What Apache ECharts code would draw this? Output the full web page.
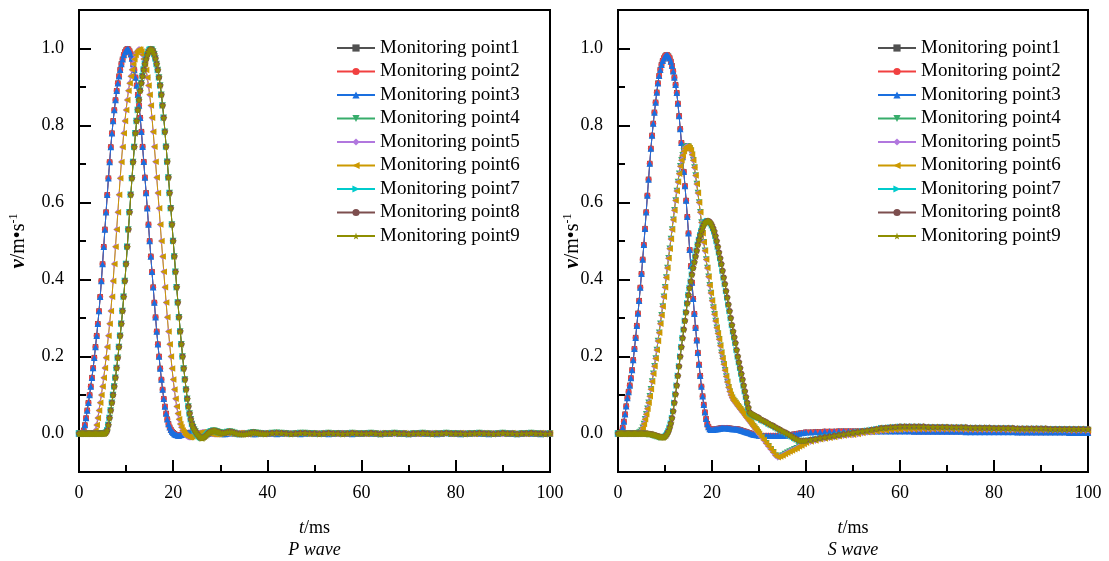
<!DOCTYPE html>
<html><head><meta charset="utf-8">
<script src="https://cdn.jsdelivr.net/npm/echarts@6/dist/echarts.min.js"></script>
<style>html,body{margin:0;padding:0;background:#fff}#c{width:1109px;height:561px}</style>
</head><body><div id="c"></div>
<script>
// ---------- DATA ----------
// sampling times (ms): 0..30 every 0.25 ms, 30.5..40 every 0.5 ms, 41..100 every 1 ms
const timeMs = [];
for (let i = 0; i <= 120; i++) timeMs.push(i * 0.25);
for (let i = 61; i <= 80; i++) timeMs.push(i * 0.5);
for (let t = 41; t <= 100; t++) timeMs.push(t);

const seriesNames = ['Monitoring point1','Monitoring point2','Monitoring point3','Monitoring point4','Monitoring point5','Monitoring point6','Monitoring point7','Monitoring point8','Monitoring point9'];
const yTickValues = [0, 0.2, 0.4, 0.6, 0.8, 1.0];

// P wave, points 1-3
const pA = [
0, 0, 0, 0.002, 0.008, 0.022, 0.04, 0.06,
0.08, 0.1, 0.122, 0.145, 0.17, 0.197, 0.225, 0.254,
0.285, 0.318, 0.355, 0.396, 0.44, 0.485, 0.53, 0.575,
0.62, 0.663, 0.705, 0.744, 0.78, 0.812, 0.84, 0.866,
0.89, 0.91, 0.928, 0.945, 0.96, 0.972, 0.983, 0.991,
0.996, 0.999, 0.998, 0.993, 0.985, 0.974, 0.96, 0.944,
0.925, 0.904, 0.88, 0.852, 0.82, 0.784, 0.745, 0.706,
0.665, 0.625, 0.585, 0.543, 0.5, 0.46, 0.42, 0.38,
0.34, 0.302, 0.265, 0.232, 0.2, 0.169, 0.14, 0.114,
0.09, 0.07, 0.052, 0.037, 0.025, 0.016, 0.01, 0.005,
0.002, -0.001, -0.003, -0.004, -0.005, -0.005, -0.004, -0.003,
-0.002, -0.001, 0, 0, 0.001, 0.002, 0.002, 0.002,
0.002, 0.002, 0.001, 0, 0, -0.001, -0.001, -0.002,
-0.002, -0.002, -0.002, -0.001, -0.001, 0, 0, 0.001,
0.001, 0.002, 0.002, 0.002, 0.002, 0.002, 0.001, 0,
0,
-0.001, -0.001, 0, 0.001, 0.001, 0, 0, -0.001, 0, 0.001,
0.001, 0, 0, -0.001, -0.001, 0, 0.001, 0.001, 0, 0,
0, -0.001, 0, 0.001, 0, 0, -0.001, 0, 0.001, 0,
0, 0, -0.001, 0, 0.001, 0.001, 0, -0.001, 0, 0,
0.001, 0, 0, -0.001, 0, 0, 0.001, 0, 0, -0.001,
0, 0.001, 0, 0, 0, -0.001, 0, 0.001, 0, 0,
-0.001, 0, 0, 0.001, 0, 0, -0.001, 0, 0, 0.001,
0, 0, -0.001, 0, 0.001, 0, 0, -0.001, 0, 0
];
// P wave, points 5-6
const pB = [
0, 0, 0, 0, 0, 0, 0, 0,
0, 0, 0, 0, 0, 0.002, 0.008, 0.022,
0.04, 0.06, 0.08, 0.1, 0.122, 0.145, 0.17, 0.197,
0.225, 0.254, 0.285, 0.318, 0.355, 0.396, 0.44, 0.485,
0.53, 0.575, 0.62, 0.663, 0.705, 0.744, 0.78, 0.812,
0.84, 0.866, 0.89, 0.91, 0.928, 0.945, 0.96, 0.972,
0.983, 0.991, 0.995, 0.998, 0.997, 0.992, 0.984, 0.973,
0.96, 0.944, 0.925, 0.904, 0.88, 0.852, 0.82, 0.784,
0.745, 0.706, 0.665, 0.625, 0.585, 0.543, 0.5, 0.46,
0.42, 0.38, 0.34, 0.302, 0.265, 0.232, 0.2, 0.169,
0.14, 0.114, 0.09, 0.07, 0.052, 0.037, 0.025, 0.016,
0.008, 0.003, -0.002, -0.005, -0.008, -0.009, -0.01, -0.01,
-0.008, -0.006, -0.004, -0.002, -0.001, 0, 0.001, 0.002,
0.002, 0.003, 0.003, 0.003, 0.002, 0.002, 0.001, 0,
0, -0.001, -0.001, -0.002, -0.002, -0.002, -0.001, -0.001,
0,
0.001, 0.002, 0.001, 0, -0.001, -0.001, 0, 0.001, 0.001, 0,
0, -0.001, 0, 0.001, 0, 0, -0.001, 0, 0.001, 0,
0, 0.001, 0, -0.001, 0, 0, 0.001, 0, -0.001, 0,
0, 0.001, 0, 0, -0.001, 0, 0, 0.001, 0, 0,
-0.001, 0, 0, 0.001, 0, 0, -0.001, 0, 0.001, 0,
0, -0.001, 0, 0, 0.001, 0, 0, 0, -0.001, 0,
0.001, 0, 0, -0.001, 0, 0.001, 0, 0, 0, -0.001,
0, 0.001, 0, 0, -0.001, 0, 0, 0.001, 0, 0
];
// P wave, points 4,7,8,9
const pC = [
0, 0, 0, 0, 0, 0, 0, 0,
0, 0, 0, 0, 0, 0, 0, 0,
0, 0, 0, 0, 0, 0, 0, 0.002,
0.008, 0.022, 0.04, 0.06, 0.08, 0.1, 0.122, 0.145,
0.17, 0.197, 0.225, 0.254, 0.285, 0.318, 0.355, 0.396,
0.44, 0.485, 0.53, 0.575, 0.62, 0.663, 0.705, 0.744,
0.78, 0.812, 0.84, 0.866, 0.89, 0.91, 0.928, 0.945,
0.96, 0.972, 0.983, 0.991, 0.996, 0.998, 0.997, 0.992,
0.985, 0.974, 0.96, 0.944, 0.925, 0.904, 0.88, 0.852,
0.82, 0.784, 0.745, 0.706, 0.665, 0.625, 0.585, 0.543,
0.5, 0.46, 0.42, 0.38, 0.34, 0.302, 0.265, 0.232,
0.2, 0.169, 0.14, 0.114, 0.09, 0.07, 0.052, 0.037,
0.025, 0.016, 0.01, 0.005, 0, -0.004, -0.008, -0.01,
-0.012, -0.012, -0.01, -0.008, -0.005, -0.002, 0.001, 0.003,
0.005, 0.006, 0.007, 0.007, 0.006, 0.005, 0.004, 0.003,
0.002,
0.001, 0.002, 0.004, 0.005, 0.004, 0.002, 0, -0.001, -0.002, -0.002,
-0.001, 0, 0.002, 0.003, 0.002, 0.001, 0, 0, -0.001, 0,
0.001, 0.002, 0.001, 0, -0.001, 0, 0.001, 0.001, 0, 0,
-0.001, 0, 0.001, 0, 0, -0.001, 0, 0.001, 0, 0,
0, 0.001, 0, -0.001, 0, 0, 0.001, 0, 0, -0.001,
0, 0, 0.001, 0, -0.001, 0, 0, 0.001, 0, 0,
0, -0.001, 0, 0, 0.001, 0, 0, -0.001, 0, 0.001,
0, 0, -0.001, 0, 0, 0.001, 0, 0, -0.001, 0
];
// S wave, points 1-3
const sA = [
0, 0, 0, 0.005, 0.015, 0.031, 0.05, 0.071,
0.092, 0.108, 0.125, 0.144, 0.165, 0.191, 0.22, 0.249,
0.28, 0.312, 0.345, 0.379, 0.415, 0.452, 0.49, 0.532,
0.575, 0.618, 0.66, 0.701, 0.74, 0.774, 0.805, 0.834,
0.86, 0.886, 0.91, 0.929, 0.945, 0.958, 0.968, 0.975,
0.98, 0.983, 0.983, 0.98, 0.975, 0.966, 0.955, 0.941,
0.925, 0.906, 0.885, 0.857, 0.825, 0.791, 0.755, 0.718,
0.68, 0.643, 0.605, 0.563, 0.52, 0.477, 0.435, 0.392,
0.35, 0.311, 0.275, 0.242, 0.21, 0.179, 0.15, 0.122,
0.097, 0.075, 0.055, 0.038, 0.025, 0.017, 0.012, 0.01,
0.01, 0.01, 0.011, 0.011, 0.012, 0.012, 0.013, 0.013,
0.014, 0.014, 0.014, 0.014, 0.014, 0.014, 0.013, 0.013,
0.013, 0.012, 0.012, 0.012, 0.012, 0.011, 0.011, 0.01,
0.009, 0.008, 0.007, 0.006, 0.005, 0.004, 0.003, 0.002,
0.001, 0, -0.001, -0.002, -0.003, -0.003, -0.004, -0.004,
-0.005,
-0.006, -0.006, -0.006, -0.006, -0.006, -0.006, -0.006, -0.006, -0.005, -0.005,
-0.005, -0.004, -0.004, -0.003, -0.002, -0.001, 0, 0.001, 0.002, 0.003,
0.003, 0.004, 0.004, 0.005, 0.005, 0.005, 0.006, 0.006, 0.006, 0.006,
0.006, 0.006, 0.006, 0.006, 0.006, 0.006, 0.006, 0.006, 0.006, 0.006,
0.006, 0.006, 0.005, 0.005, 0.005, 0.005, 0.005, 0.005, 0.005, 0.005,
0.005, 0.005, 0.005, 0.004, 0.004, 0.004, 0.004, 0.004, 0.004, 0.004,
0.004, 0.004, 0.004, 0.004, 0.003, 0.003, 0.003, 0.003, 0.003, 0.003,
0.003, 0.003, 0.003, 0.003, 0.003, 0.002, 0.002, 0.002, 0.002, 0.002
];
// S wave, points 4-6
const sB = [
0, 0, 0, 0, 0, 0, 0, 0,
0, 0, 0, 0, 0, 0, 0, 0,
0, 0, 0.002, 0.004, 0.008, 0.015, 0.025, 0.037,
0.05, 0.064, 0.08, 0.097, 0.115, 0.135, 0.155, 0.175,
0.195, 0.217, 0.24, 0.262, 0.285, 0.307, 0.33, 0.355,
0.38, 0.405, 0.43, 0.455, 0.48, 0.505, 0.53, 0.555,
0.58, 0.605, 0.63, 0.653, 0.675, 0.694, 0.71, 0.723,
0.733, 0.74, 0.744, 0.746, 0.745, 0.741, 0.735, 0.724,
0.71, 0.691, 0.67, 0.648, 0.625, 0.6, 0.575, 0.548,
0.52, 0.497, 0.475, 0.452, 0.43, 0.407, 0.385, 0.365,
0.345, 0.327, 0.31, 0.292, 0.275, 0.26, 0.245, 0.228,
0.21, 0.195, 0.18, 0.164, 0.148, 0.134, 0.12, 0.109,
0.1, 0.093, 0.087, 0.083, 0.079, 0.075, 0.071, 0.067,
0.063, 0.059, 0.055, 0.051, 0.047, 0.043, 0.039, 0.035,
0.031, 0.027, 0.023, 0.019, 0.015, 0.011, 0.007, 0.003,
-0.001,
-0.009, -0.017, -0.025, -0.033, -0.041, -0.049, -0.057, -0.062, -0.06, -0.057,
-0.053, -0.05, -0.047, -0.044, -0.041, -0.038, -0.034, -0.031, -0.027, -0.024,
-0.021, -0.018, -0.015, -0.013, -0.011, -0.009, -0.007, -0.005, -0.004, -0.003,
-0.001, 0.001, 0.003, 0.004, 0.006, 0.007, 0.008, 0.009, 0.01, 0.01,
0.011, 0.011, 0.011, 0.012, 0.012, 0.012, 0.012, 0.012, 0.012, 0.012,
0.012, 0.012, 0.012, 0.011, 0.011, 0.011, 0.011, 0.011, 0.011, 0.011,
0.011, 0.011, 0.01, 0.01, 0.01, 0.01, 0.01, 0.01, 0.01, 0.01,
0.01, 0.01, 0.01, 0.01, 0.01, 0.009, 0.009, 0.009, 0.009, 0.009
];
// S wave, points 7-9
const sC = [
0, 0, 0, 0, 0, 0, 0, 0,
0, 0, 0, 0, 0, 0, 0, 0,
0, 0, 0, 0, 0, 0, 0, 0,
0, 0, -0.001, -0.001, -0.002, -0.002, -0.003, -0.004,
-0.005, -0.006, -0.007, -0.008, -0.009, -0.01, -0.01, -0.01,
-0.008, -0.005, 0, 0.006, 0.015, 0.026, 0.04, 0.058,
0.08, 0.102, 0.125, 0.15, 0.175, 0.2, 0.225, 0.248,
0.27, 0.293, 0.315, 0.338, 0.36, 0.378, 0.395, 0.413,
0.43, 0.445, 0.46, 0.475, 0.49, 0.503, 0.515, 0.526,
0.535, 0.542, 0.547, 0.55, 0.552, 0.552, 0.55, 0.546,
0.54, 0.533, 0.525, 0.513, 0.5, 0.485, 0.47, 0.455,
0.44, 0.423, 0.405, 0.388, 0.37, 0.353, 0.335, 0.318,
0.3, 0.282, 0.265, 0.25, 0.235, 0.217, 0.2, 0.185,
0.17, 0.155, 0.14, 0.125, 0.11, 0.095, 0.08, 0.067,
0.055, 0.052, 0.05, 0.048, 0.047, 0.045, 0.043, 0.042,
0.04,
0.036, 0.033, 0.03, 0.026, 0.023, 0.02, 0.016, 0.013, 0.01, 0.006,
0.003, 0, -0.004, -0.008, -0.012, -0.015, -0.018, -0.019, -0.019, -0.018,
-0.016, -0.014, -0.012, -0.01, -0.008, -0.006, -0.004, -0.002, 0, 0.002,
0.004, 0.006, 0.008, 0.01, 0.012, 0.014, 0.015, 0.016, 0.017, 0.018,
0.018, 0.018, 0.018, 0.018, 0.018, 0.017, 0.017, 0.017, 0.017, 0.017,
0.016, 0.016, 0.016, 0.016, 0.015, 0.015, 0.015, 0.015, 0.015, 0.014,
0.014, 0.014, 0.014, 0.014, 0.013, 0.013, 0.013, 0.013, 0.013, 0.013,
0.013, 0.012, 0.012, 0.012, 0.012, 0.012, 0.012, 0.012, 0.012, 0.012
];

const pWaveSeries = [pA, pA, pA, pC, pB, pB, pC, pC, pC];
const sWaveSeries = [sA, sA, sA, sB, sB, sB, sC, sC, sC];

// ---------- STYLE ----------
const FONT = '"Liberation Serif", "Times New Roman", serif';
const colors = ['#515151','#F14040','#1A6FDF','#37AD6B','#B177DE','#CC9900','#00CBCC','#7D4E4E','#8E8E00'];
const STAR = 'path://M50,0 L61,35 L98,35 L68,57 L79,91 L50,70 L21,91 L32,57 L2,35 L39,35 Z';
const symbols = ['rect','circle','triangle','triangle','diamond','triangle','triangle','circle',STAR];
const rotates = [0,0,0,180,0,90,-90,0,0];
const sizes = [5.5,6,6.5,6.5,6.5,6.5,6.5,6,7.5];

const panels = [
  {data: pWaveSeries, label: 'P wave', left: 79, width: 471, legendLeft: 336, yNameGap: 50},
  {data: sWaveSeries, label: 'S wave', left: 618, width: 470, legendLeft: 877, yNameGap: 35}
];

const grid = [], xAxis = [], yAxis = [], legend = [], series = [];
const black = '#000';
panels.forEach((p, pi) => {
  grid.push({left: p.left, top: 10, width: p.width, height: 462, show: true,
    borderColor: black, borderWidth: 2, backgroundColor: 'transparent', containLabel: false, outerBoundsMode: 'none'});
  xAxis.push({
    type: 'value', gridIndex: pi, min: 0, max: 100, interval: 20,
    axisLine: {show: true, onZero: false, lineStyle: {color: black, width: 2}},
    axisTick: {show: true, inside: true, length: 12, lineStyle: {color: black, width: 2}},
    minorTick: {show: true, splitNumber: 2, length: 7, lineStyle: {color: black, width: 2}},
    splitLine: {show: false},
    axisLabel: {color: black, fontSize: 18, fontFamily: FONT, margin: 12},
    name: '{i|t}{n|/ms}\n{i|' + p.label + '}',
    nameLocation: 'middle', nameGap: 45, nameMoveOverlap: false,
    nameTextStyle: {color: black, fontFamily: FONT, fontSize: 18, lineHeight: 22,
      rich: {i: {fontStyle: 'italic', fontFamily: FONT, fontSize: 18, lineHeight: 22, color: black},
             n: {fontFamily: FONT, fontSize: 18, lineHeight: 22, color: black}}}
  });
  // main y axis: labels & major ticks
  yAxis.push({
    type: 'value', gridIndex: pi, min: -0.1, max: 1.1,
    axisLine: {show: true, onZero: false, lineStyle: {color: black, width: 2}},
    axisTick: {show: true, inside: true, length: 12, lineStyle: {color: black, width: 2}, customValues: yTickValues},
    splitLine: {show: false},
    axisLabel: {color: black, fontSize: 18, fontFamily: FONT, margin: 15, customValues: yTickValues,
      formatter: v => v.toFixed(1)},
    name: '{i|v}{n|/m•s}{sup|-1}', nameLocation: 'middle', nameGap: p.yNameGap, nameRotate: 90,
    nameMoveOverlap: false,
    nameTextStyle: {color: black, fontFamily: FONT, fontSize: 20,
      rich: {i: {fontStyle: 'italic', fontWeight: 'bold', fontFamily: FONT, fontSize: 21, color: black},
             n: {fontFamily: FONT, fontSize: 20, color: black},
             sup: {fontFamily: FONT, fontSize: 12, color: black, verticalAlign: 'top'}}}
  });
  // secondary y axis: minor ticks only
  yAxis.push({
    type: 'value', gridIndex: pi, min: -0.1, max: 1.1, interval: 0.2, position: 'left',
    axisLine: {show: false, onZero: false}, axisLabel: {show: false}, splitLine: {show: false},
    axisTick: {show: true, inside: true, length: 7, lineStyle: {color: black, width: 2}}
  });
  legend.push({
    orient: 'vertical', left: p.legendLeft, top: 38, padding: 0, itemWidth: 38, itemHeight: 9, itemGap: 3.5,
    data: seriesNames,
    textStyle: {color: black, fontFamily: FONT, fontSize: 19, lineHeight: 20},
    selectedMode: false
  });
  seriesNames.forEach((name, k) => {
    const arr = p.data[k];
    series.push({
      type: 'line', name, xAxisIndex: pi, yAxisIndex: pi * 2,
      data: timeMs.map((t, i) => [t, arr[i]]),
      symbol: symbols[k], symbolRotate: rotates[k], symbolSize: sizes[k], showSymbol: true,
      lineStyle: {color: colors[k], width: 1}, itemStyle: {color: colors[k]},
      emphasis: {disabled: true}, animation: false
    });
  });
});

const chart = echarts.init(document.getElementById('c'), null, {renderer: 'canvas'});
chart.setOption({backgroundColor: '#fff', animation: false, color: colors, grid, xAxis, yAxis, legend, series});
</script></body></html>
